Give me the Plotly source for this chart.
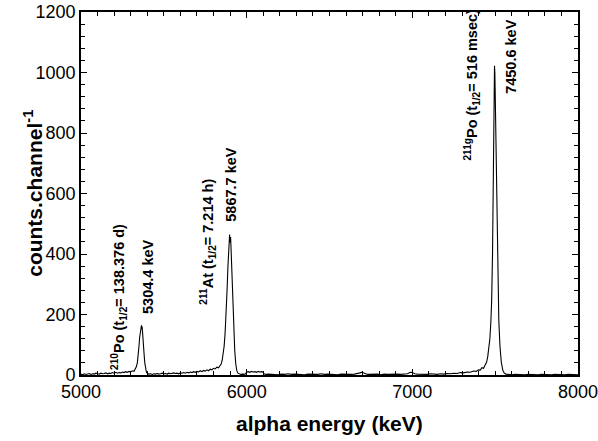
import plotly.graph_objects as go

# Alpha spectrum (energy in keV, counts per channel)
energy_kev = [
    5000, 5010, 5020, 5030, 5040, 5050, 5060, 5070, 5080, 5090,
    5100, 5110, 5120, 5130, 5140, 5150, 5160, 5170, 5180, 5190,
    5200, 5210, 5220, 5230, 5240, 5250, 5260, 5270, 5280, 5290,
    5300, 5310, 5320,
    5328, 5334, 5340, 5345, 5350, 5354, 5358, 5362, 5365, 5367,
    5369, 5371, 5374, 5377, 5381, 5385, 5390, 5395, 5402,
    5410, 5420, 5430, 5440, 5450, 5460, 5470, 5480, 5490, 5500,
    5510, 5520, 5530, 5540, 5550, 5560, 5570, 5580, 5590, 5600,
    5610, 5620, 5630, 5640, 5650, 5660, 5670, 5680, 5690, 5700,
    5710, 5720, 5730, 5740, 5750, 5760, 5770, 5780, 5790, 5800,
    5810, 5820, 5830, 5840, 5846, 5852, 5858, 5864, 5870, 5876,
    5882, 5887, 5891, 5894, 5897, 5899, 5901, 5903, 5906, 5910,
    5914, 5918, 5923, 5928, 5934, 5940, 5947, 5955, 5965, 5975,
    5985, 5995, 6000, 6010, 6020, 6030, 6040, 6050, 6060, 6070,
    6080, 6090, 6098, 6105, 6115, 6130, 6150, 6170, 6190, 6210,
    6230, 6250, 6270, 6290, 6310, 6330, 6350, 6370, 6390, 6410,
    6430, 6450, 6470, 6490, 6510, 6530, 6550, 6570, 6590, 6610,
    6630, 6650, 6670, 6685, 6695, 6705, 6715, 6730, 6750, 6770,
    6790, 6810, 6830, 6850, 6870, 6890, 6910, 6930, 6950, 6970,
    6985, 6995, 7005, 7015, 7030, 7050, 7070, 7090, 7110, 7130,
    7150, 7170, 7190, 7210, 7230, 7250, 7270, 7290, 7310, 7330,
    7350, 7370, 7385, 7400, 7410, 7420, 7430, 7440, 7448, 7455,
    7462, 7468, 7474, 7479, 7484, 7488, 7491, 7494, 7496, 7498,
    7500, 7503, 7507, 7511, 7516, 7522, 7529, 7537, 7546, 7555,
    7565, 7580, 7600, 7620, 7640, 7660, 7680, 7700, 7720, 7740,
    7760, 7780, 7800, 7820, 7840, 7860, 7880, 7900, 7920, 7940,
    7960, 7980, 8000,
]
counts = [
    3, 1, 4, 2, 3, 5, 2, 4, 3, 6,
    4, 3, 6, 4, 5, 7, 4, 6, 5, 8,
    6, 9, 6, 8, 7, 10, 8, 11, 9, 12,
    10, 14, 12,
    20, 27, 40, 62, 95, 125, 148, 158, 164, 152,
    160, 145, 128, 100, 68, 40, 20, 9, 5,
    3, 4, 2, 4, 3, 5, 3, 4, 6, 4,
    5, 3, 6, 4, 5, 7, 5, 6, 4, 7,
    6, 8, 6, 9, 7, 10, 8, 11, 9, 12,
    10, 14, 11, 15, 13, 17, 14, 19, 17, 22,
    20, 26, 24, 31, 36, 48, 65, 95, 140, 200,
    285, 360, 420, 450, 464, 438, 450, 456, 415, 350,
    280, 210, 135, 80, 38, 15, 6, 3, 2, 3,
    2, 5, 10, 11, 9, 12, 10, 11, 9, 12,
    10, 11, 10, 4, 2, 3, 2, 3, 1, 3,
    2, 4, 2, 3, 2, 3, 1, 3, 2, 3,
    2, 4, 2, 3, 2, 3, 1, 3, 2, 3,
    2, 3, 4, 7, 9, 8, 5, 2, 3, 2,
    3, 1, 3, 2, 3, 2, 3, 2, 3, 4,
    8, 9, 7, 4, 3, 2, 3, 2, 4, 3,
    2, 4, 3, 5, 4, 6, 5, 8, 7, 10,
    9, 13, 12, 17, 16, 24, 22, 34, 42, 60,
    85, 120, 175, 250, 400, 600, 790, 950, 1022, 1000,
    940, 830, 650, 470, 310, 180, 95, 42, 16, 6,
    3, 2, 1, 2, 1, 2, 1, 2, 1, 2,
    1, 2, 1, 2, 1, 2, 1, 2, 1, 2,
    1, 2, 1,
]

x_range = [5000, 8000]
y_range = [0, 1200]
x_major_ticks = [5000, 6000, 7000, 8000]
y_major_ticks = [0, 200, 400, 600, 800, 1000, 1200]
x_minor_step = 100
y_minor_step = 40
x_minor_ticks = list(range(x_range[0], x_range[1] + 1, x_minor_step))
y_minor_ticks = list(range(y_range[0], y_range[1] + 1, y_minor_step))

peak_labels = [
    "<sup>210</sup>Po (t<sub>1/2</sub>= 138.376 d)",
    "5304.4 keV",
    "<sup>211</sup>At (t<sub>1/2</sub>= 7.214 h)",
    "5867.7 keV",
    "<sup>211g</sup>Po (t<sub>1/2</sub>= 516 msec)",
    "7450.6 keV",
]
label_x = [5225, 5400, 5765, 5907, 7360, 7596]
label_y = [259, 325, 440, 630, 960, 1052]

x_title = "alpha energy (keV)"
y_title = "counts.channel<sup>-1</sup>"

FONT = "Arial, 'Liberation Sans', sans-serif"

fig = go.Figure()
fig.add_trace(go.Scatter(
    x=energy_kev, y=counts, mode="lines",
    line=dict(color="black", width=1.1),
    showlegend=False, hoverinfo="skip",
))
# invisible helper trace on the overlay axes that carry the minor ticks
fig.add_trace(go.Scatter(
    x=x_range, y=y_range, xaxis="x2", yaxis="y2", mode="lines",
    line=dict(width=0), opacity=0, showlegend=False, hoverinfo="skip",
))

for txt, lx, ly in zip(peak_labels, label_x, label_y):
    fig.add_annotation(
        x=lx, y=ly, xref="x", yref="y", text=f"<b>{txt}</b>",
        textangle=-90, showarrow=False,
        font=dict(family=FONT, size=14.5, color="black"),
    )

fig.add_annotation(
    x=0.5, y=-0.134, xref="paper", yref="paper", text=f"<b>{x_title}</b>",
    showarrow=False, xanchor="center", yanchor="middle",
    font=dict(family=FONT, size=21, color="black"),
)
fig.add_annotation(
    x=-0.098, y=0.5, xref="paper", yref="paper", text=f"<b>{y_title}</b>",
    textangle=-90, showarrow=False, xanchor="center", yanchor="middle",
    font=dict(family=FONT, size=21, color="black"),
)

major_common = dict(
    showline=True, linecolor="black", linewidth=1.6,
    mirror="allticks", ticks="inside", ticklen=6, tickwidth=1.3,
    tickcolor="black", showgrid=False, zeroline=False,
    tickfont=dict(family=FONT, size=18, color="black"),
    ticklabeloverflow="allow",
    automargin=False, tickmode="array",
)
minor_common = dict(
    showline=False, mirror="allticks", ticks="inside", ticklen=4, tickwidth=1.2,
    tickcolor="black", showgrid=False, zeroline=False, showticklabels=False,
    automargin=False, tickmode="array",
)

fig.update_layout(
    width=598, height=441,
    margin=dict(l=81, r=20, t=12, b=66),
    plot_bgcolor="white", paper_bgcolor="white",
    font=dict(family=FONT, color="black"),
    xaxis=dict(range=x_range, tickvals=x_major_ticks,
               ticktext=[str(v) for v in x_major_ticks], **major_common),
    yaxis=dict(range=y_range, tickvals=y_major_ticks,
               ticktext=[str(v) for v in y_major_ticks], **major_common),
    xaxis2=dict(range=x_range, tickvals=x_minor_ticks, overlaying="x",
                anchor="y2", **minor_common),
    yaxis2=dict(range=y_range, tickvals=y_minor_ticks, overlaying="y",
                anchor="x2", **minor_common),
)

# remove the default 8px page margin so the figure fills the window exactly
fig.write_html(
    "out.html",
    config={"displayModeBar": False},
    post_script="document.body.style.margin='0';",
)
